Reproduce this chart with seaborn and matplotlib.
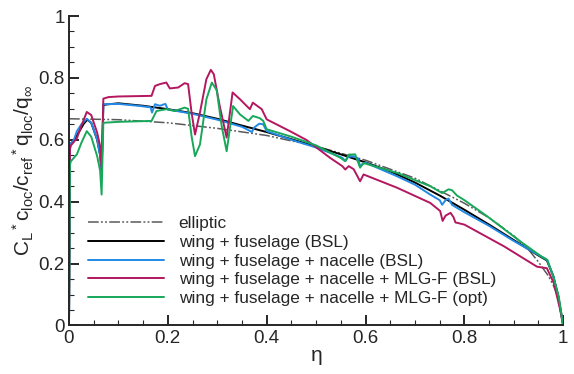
import numpy as np
import pandas as pd
import matplotlib
matplotlib.use('Agg')
import matplotlib.pyplot as plt
import seaborn as sns
from matplotlib.ticker import MultipleLocator

# spanwise lift distributions
eta_ell = [0, 0.1, 0.2, 0.3, 0.4, 0.5, 0.6, 0.7, 0.8, 0.85, 0.9, 0.93, 0.95, 0.97, 0.98, 0.99, 1.0]
cl_ell = [0.668, 0.665, 0.655, 0.637, 0.614, 0.579, 0.534, 0.476, 0.395, 0.348, 0.29, 0.245, 0.205, 0.16, 0.13, 0.09, 0.0]

eta_wf = [0, 0.002, 0.01, 0.02, 0.03, 0.037, 0.045, 0.057, 0.063, 0.066, 0.0695, 0.075, 0.1, 0.15, 0.2, 0.25,
          0.3, 0.35, 0.4, 0.45, 0.5, 0.55, 0.6, 0.65, 0.7, 0.75, 0.8, 0.85, 0.9, 0.95, 0.967, 0.98, 0.99, 0.997, 1.0]
cl_wf = [0, 0.585, 0.598, 0.625, 0.652, 0.665, 0.655, 0.6, 0.55, 0.49, 0.712, 0.714, 0.718, 0.71, 0.699, 0.686,
         0.668, 0.646, 0.625, 0.602, 0.578, 0.553, 0.527, 0.498, 0.462, 0.42, 0.374, 0.326, 0.276, 0.226, 0.21,
         0.16, 0.095, 0.03, 0.0]

eta_wfn = [0, 0.002, 0.01, 0.016, 0.025, 0.036, 0.045, 0.057, 0.063, 0.066, 0.0695, 0.1, 0.14, 0.165, 0.168,
           0.174, 0.184, 0.195, 0.2, 0.25, 0.3, 0.35, 0.36, 0.37, 0.375, 0.385, 0.393, 0.4, 0.45, 0.5, 0.528,
           0.553, 0.559, 0.565, 0.576, 0.585, 0.589, 0.594, 0.6, 0.664, 0.7, 0.731, 0.75, 0.755, 0.762, 0.768,
           0.775, 0.78, 0.8, 0.85, 0.9, 0.95, 0.967, 0.98, 0.99, 0.997, 1.0]
cl_wfn = [0, 0.585, 0.6, 0.628, 0.65, 0.668, 0.655, 0.601, 0.55, 0.493, 0.715, 0.716, 0.71, 0.705, 0.688,
          0.715, 0.71, 0.716, 0.698, 0.684, 0.665, 0.642, 0.634, 0.625, 0.64, 0.652, 0.65, 0.628, 0.6, 0.575,
          0.558, 0.542, 0.531, 0.545, 0.547, 0.54, 0.515, 0.522, 0.526, 0.482, 0.455, 0.423, 0.405, 0.39, 0.405,
          0.41, 0.39, 0.385, 0.366, 0.322, 0.273, 0.228, 0.212, 0.158, 0.093, 0.025, 0.0]

eta_mlg = [0, 0.002, 0.004, 0.016, 0.025, 0.036, 0.045, 0.057, 0.063, 0.066, 0.0695, 0.08, 0.1, 0.167, 0.174,
           0.184, 0.197, 0.204, 0.221, 0.234, 0.241, 0.248, 0.255, 0.265, 0.278, 0.287, 0.293, 0.305, 0.319,
           0.331, 0.346, 0.366, 0.372, 0.39, 0.4, 0.447, 0.481, 0.528, 0.553, 0.559, 0.566, 0.576, 0.589, 0.596,
           0.664, 0.731, 0.751, 0.756, 0.762, 0.772, 0.778, 0.782, 0.8, 0.88, 0.947, 0.967, 0.981, 0.994, 1.0]
cl_mlg = [0, 0.57, 0.582, 0.605, 0.645, 0.69, 0.68, 0.623, 0.58, 0.504, 0.733, 0.738, 0.74, 0.742, 0.774,
          0.78, 0.785, 0.766, 0.769, 0.783, 0.78, 0.688, 0.617, 0.688, 0.796, 0.826, 0.812, 0.709, 0.607,
          0.753, 0.731, 0.699, 0.72, 0.699, 0.666, 0.628, 0.599, 0.542, 0.515, 0.504, 0.515, 0.505, 0.466, 0.488,
          0.445, 0.396, 0.37, 0.338, 0.355, 0.364, 0.35, 0.333, 0.326, 0.256, 0.19, 0.185, 0.137, 0.05, 0.0]

eta_opt = [0, 0.002, 0.004, 0.016, 0.025, 0.036, 0.045, 0.057, 0.063, 0.066, 0.0695, 0.1, 0.167, 0.177, 0.197,
           0.214, 0.234, 0.241, 0.248, 0.255, 0.265, 0.278, 0.289, 0.299, 0.309, 0.319, 0.332, 0.346, 0.363,
           0.372, 0.386, 0.393, 0.4, 0.45, 0.5, 0.549, 0.559, 0.566, 0.579, 0.589, 0.596, 0.664, 0.731, 0.755,
           0.768, 0.775, 0.785, 0.8, 0.846, 0.913, 0.954, 0.968, 0.98, 0.991, 0.998, 1.0]
cl_opt = [0, 0.52, 0.531, 0.553, 0.59, 0.628, 0.61, 0.547, 0.5, 0.423, 0.655, 0.658, 0.661, 0.693, 0.699,
          0.693, 0.704, 0.7, 0.612, 0.547, 0.585, 0.731, 0.785, 0.76, 0.644, 0.563, 0.709, 0.682, 0.661,
          0.677, 0.67, 0.661, 0.634, 0.61, 0.582, 0.542, 0.531, 0.552, 0.553, 0.51, 0.525, 0.493, 0.45, 0.428,
          0.44, 0.437, 0.42, 0.405, 0.353, 0.272, 0.225, 0.212, 0.158, 0.093, 0.02, 0.0]

tick_vals = [0, 0.2, 0.4, 0.6, 0.8, 1.0]
tick_text = ['0', '0.2', '0.4', '0.6', '0.8', '1']

labels = ['elliptic', 'wing + fuselage (BSL)', 'wing + fuselage + nacelle (BSL)',
          'wing + fuselage + nacelle + MLG-F (BSL)', 'wing + fuselage + nacelle + MLG-F (opt)']
colors = ['#5a5a5a', 'black', '#2289e6', '#b3175f', '#17a85a']

sns.set_style('ticks')
plt.rcParams['font.family'] = ['Liberation Sans', 'DejaVu Sans']
plt.rcParams['mathtext.fontset'] = 'custom'
plt.rcParams['mathtext.rm'] = 'Liberation Sans'
plt.rcParams['mathtext.it'] = 'Liberation Sans'

fig = plt.figure(figsize=(5.74, 3.74), dpi=100)
ax = fig.add_axes([0.1202, 0.1297, 0.861, 0.8275])

series = [(eta_ell, cl_ell), (eta_wf, cl_wf), (eta_wfn, cl_wfn), (eta_mlg, cl_mlg), (eta_opt, cl_opt)]
for i, (x, y) in enumerate(series):
    sns.lineplot(x=x, y=y, ax=ax, color=colors[i], lw=1.4, sort=False,
                 estimator=None, label=labels[i])
ax.lines[0].set_dashes([7, 1.5, 1.2, 1.5, 1.2, 1.5])
ax.lines[0].set_linewidth(1.1)

ax.set_xticks(tick_vals, labels=tick_text)
ax.set_yticks(tick_vals, labels=tick_text)
ax.xaxis.set_minor_locator(MultipleLocator(0.05))
ax.yaxis.set_minor_locator(MultipleLocator(0.05))
ax.set_xlim(0, 1)
ax.set_ylim(0, 1)
ax.tick_params(which='major', direction='in', length=7, width=1.4, labelsize=13.5, pad=3)
ax.tick_params(which='minor', direction='in', length=3.5, width=0.8)
sns.despine(ax=ax)
for s in ['left', 'bottom']:
    ax.spines[s].set_linewidth(1.4)

ax.set_xlabel(r'$\mathregular{\eta}$', fontsize=15, labelpad=1)
ax.set_ylabel(r'$\mathregular{C_L{}^*c_{loc}/c_{ref}{}^*q_{loc}/q_{\infty}}$', fontsize=15, labelpad=2)

ax.legend(loc='lower left', bbox_to_anchor=(0.025, 0.04), frameon=False, fontsize=12.4,
          handlelength=4.4, handletextpad=0.85, labelspacing=0.22, borderaxespad=0)

fig.savefig('out.png', dpi=100)
